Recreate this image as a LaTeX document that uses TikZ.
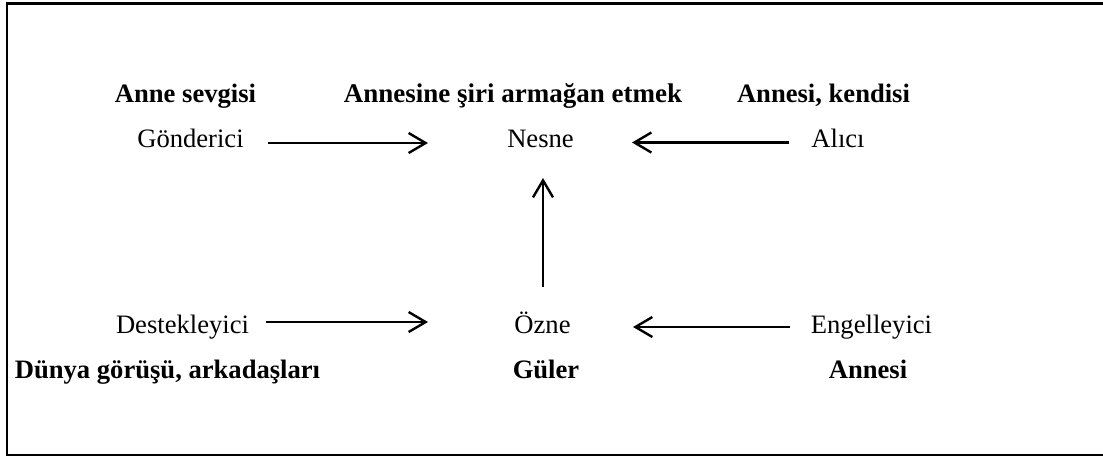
\documentclass[tikz,border=0pt]{standalone}
\usepackage{fontspec}
\setmainfont{Liberation Serif}
\usetikzlibrary{arrows.meta}
\begin{document}
\begin{tikzpicture}[x=0.5pt,y=-0.5pt,
  lbl/.style={anchor=base,inner sep=0pt,font=\fontsize{13.3}{15}\selectfont},
  blbl/.style={anchor=base,inner sep=0pt,font=\fontsize{13.3}{15}\selectfont\bfseries},
  arr/.style={line width=1.2pt,-{Straight Barb[length=8.5pt,width=10pt,line width=1.2pt]}},
  frame/.style={line width=1.4pt}]
\useasboundingbox (0,0) rectangle (1103,457);
\draw[frame] (1110,3.5) -- (7,3.5) -- (7,455) -- (1110,455);
% top labels
\node[blbl] (t1) at (185.5,102) {Anne sevgisi};
\node[blbl,font=\fontsize{13.5}{15}\selectfont\bfseries] (t2) at (513,102) {Annesine şiri armağan etmek};
\node[blbl] (t3) at (823.5,102) {Annesi, kendisi};
% actants
\node[lbl] (gon) at (190.5,147) {Gönderici};
\node[lbl] (nes) at (540.5,147) {Nesne};
\node[lbl] (ali) at (838,147) {Alıcı};
\node[lbl] (des) at (182.5,333) {Destekleyici};
\node[lbl] (ozn) at (542.5,333) {Özne};
\node[lbl] (eng) at (871.5,333) {Engelleyici};
% bottom labels
\node[blbl] (b1) at (167.5,378) {Dünya görüşü, arkadaşları};
\node[blbl] (b2) at (546,378) {Güler};
\node[blbl] (b3) at (868,378) {Annesi};
% connectors
\coordinate (g1) at (268,143);
\coordinate (g2) at (428,143);
\coordinate (a1) at (789,142.5);
\coordinate (a2) at (632,142.5);
\coordinate (d1) at (266,322);
\coordinate (d2) at (428,322);
\coordinate (e1) at (790,327);
\coordinate (e2) at (633,327);
\coordinate (v1) at (543,287);
\coordinate (v2) at (543,178);
\draw[arr] (g1) -- (g2);
\draw[arr] (a1) -- (a2);
\draw[arr] (d1) -- (d2);
\draw[arr] (e1) -- (e2);
\draw[arr] (v1) -- (v2);
\end{tikzpicture}
\end{document}
